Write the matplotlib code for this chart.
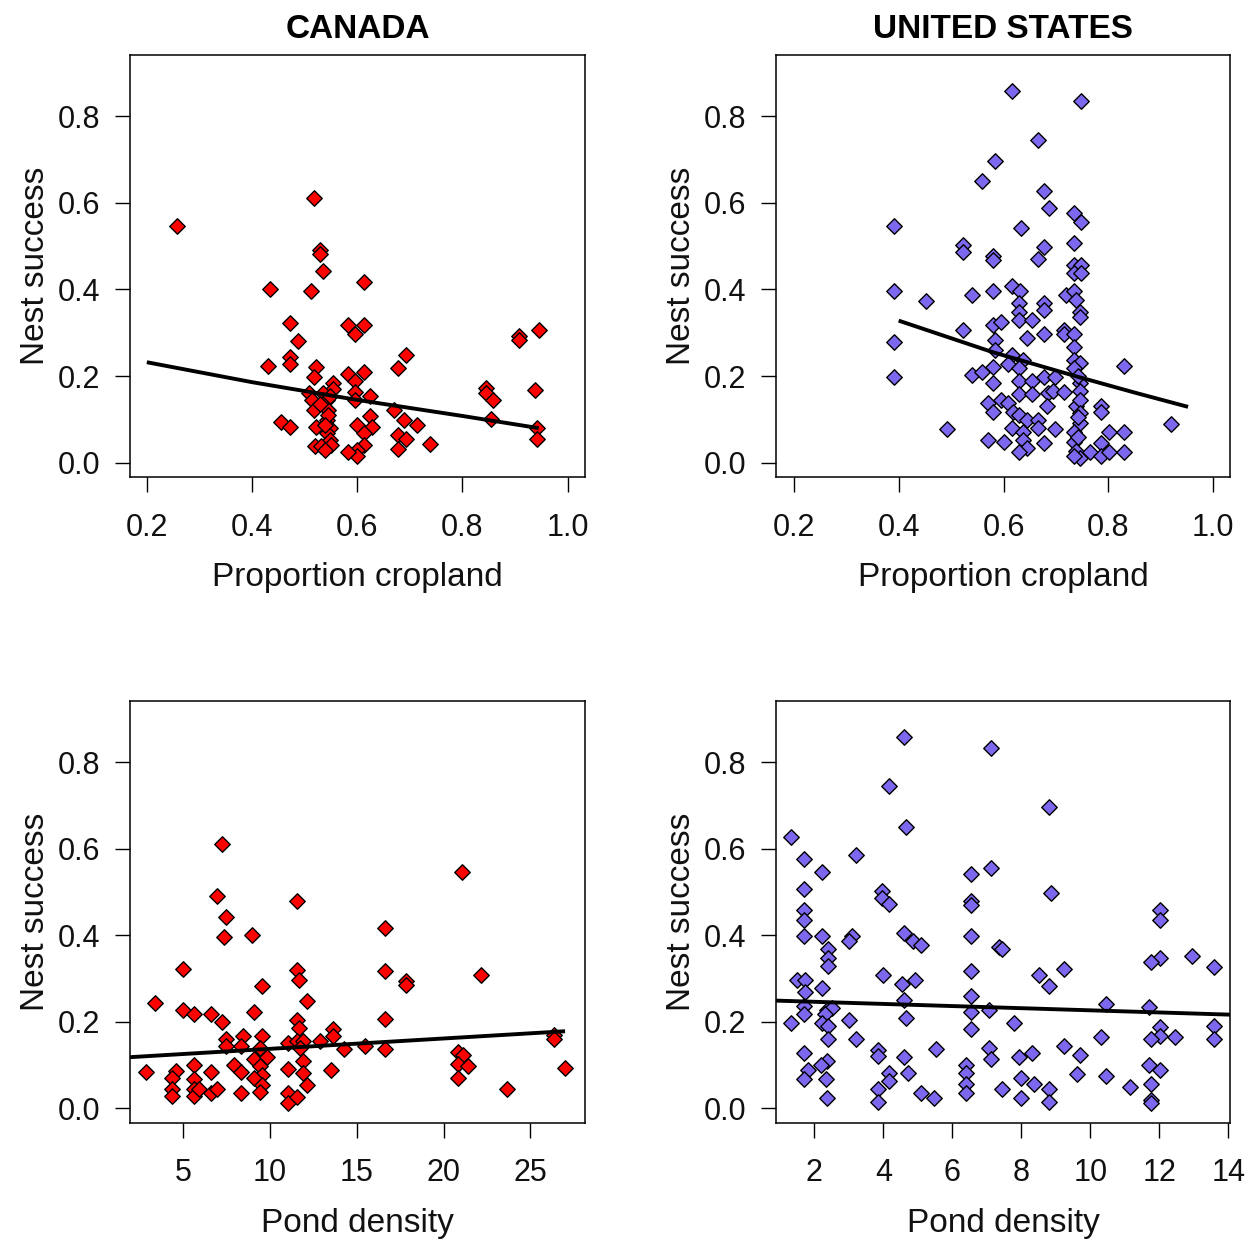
import matplotlib
matplotlib.use("Agg")
import matplotlib.pyplot as plt

plt.rcParams['font.family'] = ['Liberation Sans', 'DejaVu Sans']

# ---------------- data ----------------
can_crop_x = [0.258, 0.517, 0.529, 0.529, 0.534, 0.435, 0.513, 0.612, 0.472, 0.582,
              0.612, 0.595, 0.488, 0.693, 0.472, 0.472, 0.431, 0.521, 0.517, 0.677,
              0.582, 0.612, 0.595, 0.554, 0.554, 0.908, 0.908, 0.945, 0.845, 0.845,
              0.859, 0.937, 0.854, 0.941, 0.941, 0.624, 0.595, 0.595, 0.624, 0.628,
              0.599, 0.612, 0.612, 0.599, 0.599, 0.582, 0.669, 0.689, 0.714, 0.677,
              0.693, 0.677, 0.739, 0.455, 0.472, 0.509, 0.514, 0.517, 0.521, 0.535,
              0.542, 0.545, 0.542, 0.548, 0.542, 0.548, 0.519, 0.532, 0.551, 0.538,
              0.545, 0.538, 0.530, 0.548]
can_crop_y = [0.546, 0.611, 0.492, 0.482, 0.442, 0.402, 0.397, 0.416, 0.323, 0.317,
              0.317, 0.297, 0.282, 0.248, 0.245, 0.229, 0.223, 0.220, 0.198, 0.218,
              0.205, 0.209, 0.189, 0.184, 0.170, 0.292, 0.284, 0.307, 0.172, 0.160,
              0.144, 0.169, 0.101, 0.080, 0.055, 0.153, 0.164, 0.144, 0.109, 0.083,
              0.088, 0.069, 0.042, 0.030, 0.015, 0.024, 0.122, 0.099, 0.088, 0.065,
              0.055, 0.032, 0.044, 0.094, 0.083, 0.161, 0.145, 0.122, 0.083, 0.161,
              0.145, 0.122, 0.099, 0.080, 0.069, 0.053, 0.038, 0.038, 0.042, 0.030,
              0.110, 0.088, 0.135, 0.155]

us_crop_x = [0.617, 0.747, 0.666, 0.583, 0.559, 0.678, 0.686, 0.735, 0.747, 0.391,
             0.633, 0.522, 0.522, 0.580, 0.580, 0.678, 0.666, 0.735, 0.735, 0.747,
             0.735, 0.747, 0.391, 0.453, 0.539, 0.580, 0.617, 0.631, 0.629, 0.629,
             0.629, 0.654, 0.678, 0.678, 0.719, 0.735, 0.739, 0.745, 0.745, 0.391,
             0.391, 0.522, 0.580, 0.596, 0.583, 0.645, 0.678, 0.715, 0.715, 0.735,
             0.735, 0.735, 0.745, 0.735, 0.830, 0.583, 0.617, 0.638, 0.609, 0.629,
             0.580, 0.539, 0.559, 0.580, 0.629, 0.654, 0.678, 0.698, 0.629, 0.654,
             0.685, 0.695, 0.715, 0.746, 0.746, 0.571, 0.580, 0.596, 0.609, 0.619,
             0.629, 0.645, 0.666, 0.666, 0.682, 0.739, 0.746, 0.746, 0.746, 0.785,
             0.785, 0.920, 0.493, 0.571, 0.600, 0.617, 0.638, 0.638, 0.645, 0.629,
             0.678, 0.698, 0.735, 0.735, 0.739, 0.746, 0.735, 0.764, 0.785, 0.785,
             0.801, 0.801, 0.830, 0.830, 0.742, 0.742, 0.742]
us_crop_y = [0.859, 0.834, 0.745, 0.696, 0.651, 0.626, 0.587, 0.577, 0.556, 0.547,
             0.541, 0.503, 0.486, 0.478, 0.468, 0.497, 0.471, 0.507, 0.457, 0.457,
             0.438, 0.438, 0.397, 0.373, 0.388, 0.397, 0.409, 0.397, 0.369, 0.349,
             0.330, 0.329, 0.369, 0.353, 0.388, 0.397, 0.376, 0.347, 0.336, 0.278,
             0.198, 0.307, 0.318, 0.324, 0.283, 0.287, 0.298, 0.307, 0.298, 0.298,
             0.267, 0.238, 0.230, 0.219, 0.223, 0.261, 0.249, 0.238, 0.229, 0.219,
             0.222, 0.203, 0.209, 0.183, 0.189, 0.189, 0.199, 0.199, 0.158, 0.158,
             0.161, 0.166, 0.163, 0.184, 0.165, 0.139, 0.116, 0.145, 0.138, 0.116,
             0.111, 0.098, 0.098, 0.080, 0.130, 0.130, 0.145, 0.115, 0.092, 0.130,
             0.118, 0.089, 0.079, 0.053, 0.049, 0.080, 0.072, 0.053, 0.034, 0.024,
             0.045, 0.079, 0.070, 0.047, 0.026, 0.011, 0.015, 0.024, 0.045, 0.015,
             0.070, 0.024, 0.070, 0.024, 0.200, 0.060, 0.105]

can_pond_x = [7.22, 21.05, 6.97, 11.53, 7.45, 7.34, 8.95, 16.61, 4.96, 11.53,
              11.65, 16.61, 22.18, 17.84, 17.84, 9.56, 12.14, 3.35, 4.96, 5.59,
              6.59, 7.22, 9.06, 16.61, 11.53, 11.65, 13.64, 13.64, 7.45, 7.45,
              8.45, 8.32, 9.56, 9.43, 11.03, 11.53, 11.91, 11.72, 12.89, 14.25,
              15.50, 16.61, 26.38, 26.38, 20.82, 21.11, 20.82, 21.38, 20.82, 23.66,
              27.00, 2.87, 4.60, 4.35, 4.35, 4.35, 5.59, 5.59, 5.59, 5.59,
              5.88, 6.59, 6.59, 6.97, 7.95, 8.33, 8.33, 9.06, 9.81, 9.43,
              9.56, 9.06, 9.56, 9.43, 11.03, 11.91, 11.91, 12.14, 11.03, 11.03,
              11.53, 13.51]
can_pond_y = [0.610, 0.546, 0.491, 0.480, 0.441, 0.396, 0.401, 0.417, 0.322, 0.319,
              0.297, 0.317, 0.307, 0.295, 0.285, 0.282, 0.247, 0.244, 0.228, 0.218,
              0.218, 0.199, 0.223, 0.207, 0.205, 0.186, 0.184, 0.167, 0.161, 0.144,
              0.168, 0.144, 0.168, 0.140, 0.150, 0.155, 0.155, 0.140, 0.155, 0.136,
              0.144, 0.138, 0.170, 0.160, 0.130, 0.124, 0.103, 0.098, 0.069, 0.044,
              0.094, 0.084, 0.086, 0.071, 0.045, 0.028, 0.099, 0.067, 0.044, 0.028,
              0.044, 0.084, 0.035, 0.045, 0.099, 0.084, 0.035, 0.115, 0.118, 0.098,
              0.078, 0.069, 0.054, 0.038, 0.090, 0.109, 0.082, 0.054, 0.035, 0.013,
              0.025, 0.088]

us_pond_x = [4.61, 7.12, 4.16, 8.81, 4.67, 1.33, 1.71, 2.21, 3.22, 6.55,
             7.12, 1.71, 3.96, 3.96, 4.16, 6.55, 6.55, 8.87, 1.71, 1.71,
             12.02, 12.02, 1.71, 2.21, 3.09, 3.02, 4.61, 4.85, 5.10, 6.55,
             7.36, 7.43, 2.39, 2.39, 2.39, 12.02, 11.76, 12.96, 13.58, 3.98,
             4.53, 4.91, 6.55, 8.50, 8.81, 9.25, 1.50, 1.74, 1.74, 2.21,
             6.55, 4.61, 10.45, 11.71, 1.71, 1.71, 2.37, 2.52, 2.32, 1.33,
             2.21, 2.39, 3.02, 4.67, 6.55, 6.55, 7.05, 7.80, 12.02, 12.02,
             11.76, 12.45, 13.58, 13.58, 2.39, 3.22, 1.71, 3.86, 3.86, 4.61,
             5.54, 7.05, 7.11, 7.94, 8.32, 9.25, 9.69, 10.32, 2.37, 2.18,
             1.83, 1.71, 2.34, 2.37, 4.16, 4.16, 4.72, 3.86, 3.86, 5.10,
             5.48, 6.41, 6.41, 6.41, 6.41, 7.43, 7.99, 7.99, 8.36, 8.81,
             8.81, 9.62, 10.45, 11.14, 11.70, 12.02, 11.76, 11.76, 11.76]
us_pond_y = [0.858, 0.833, 0.744, 0.695, 0.650, 0.626, 0.576, 0.546, 0.586, 0.541,
             0.555, 0.507, 0.503, 0.486, 0.473, 0.480, 0.470, 0.497, 0.459, 0.436,
             0.459, 0.436, 0.397, 0.397, 0.397, 0.386, 0.406, 0.386, 0.377, 0.397,
             0.372, 0.367, 0.367, 0.347, 0.328, 0.347, 0.337, 0.351, 0.327, 0.307,
             0.287, 0.297, 0.317, 0.307, 0.282, 0.322, 0.297, 0.297, 0.269, 0.278,
             0.259, 0.251, 0.240, 0.234, 0.237, 0.217, 0.228, 0.232, 0.217, 0.198,
             0.198, 0.190, 0.204, 0.208, 0.222, 0.184, 0.226, 0.198, 0.188, 0.168,
             0.159, 0.164, 0.190, 0.159, 0.159, 0.159, 0.128, 0.135, 0.120, 0.119,
             0.138, 0.140, 0.113, 0.119, 0.128, 0.144, 0.124, 0.164, 0.109, 0.100,
             0.088, 0.068, 0.068, 0.023, 0.082, 0.063, 0.081, 0.044, 0.015, 0.035,
             0.023, 0.101, 0.082, 0.055, 0.036, 0.044, 0.069, 0.023, 0.055, 0.044,
             0.015, 0.080, 0.075, 0.049, 0.100, 0.088, 0.055, 0.020, 0.012]

# fitted curves
can_crop_fit_x = [0.20, 0.40, 0.60, 0.80, 0.945]
can_crop_fit_y = [0.232, 0.186, 0.145, 0.108, 0.080]
us_crop_fit_x = [0.40, 0.58, 0.74, 0.85, 0.952]
us_crop_fit_y = [0.328, 0.255, 0.199, 0.162, 0.129]
can_pond_fit_x = [1.9, 27.0]
can_pond_fit_y = [0.118, 0.178]
us_pond_fit_x = [0.8, 14.2]
us_pond_fit_y = [0.249, 0.216]

titles = ["CANADA", "UNITED STATES"]
crop_ticks = [0.2, 0.4, 0.6, 0.8, 1.0]
can_pond_ticks = [5, 10, 15, 20, 25]
us_pond_ticks = [2, 4, 6, 8, 10, 12, 14]
y_ticks = [0.0, 0.2, 0.4, 0.6, 0.8]

RED = "#FF0000"
BLUE = "#7B68EE"

W, H = 1250, 1240
fig = plt.figure(figsize=(W / 100, H / 100), dpi=100)


def px_axes(l, t, r, b):
    return fig.add_axes([l / W, 1 - b / H, (r - l) / W, (b - t) / H])


panels = [
    (px_axes(130, 55, 585, 477.5), can_crop_x, can_crop_y, can_crop_fit_x, can_crop_fit_y,
     RED, crop_ticks, (0.168, 1.033), "Proportion cropland", titles[0], "{:.1f}"),
    (px_axes(776, 55, 1230, 477.5), us_crop_x, us_crop_y, us_crop_fit_x, us_crop_fit_y,
     BLUE, crop_ticks, (0.166, 1.032), "Proportion cropland", titles[1], "{:.1f}"),
    (px_axes(130, 701, 585, 1123), can_pond_x, can_pond_y, can_pond_fit_x, can_pond_fit_y,
     RED, can_pond_ticks, (1.93, 28.15), "Pond density", None, "{:d}"),
    (px_axes(776, 701, 1230, 1123), us_pond_x, us_pond_y, us_pond_fit_x, us_pond_fit_y,
     BLUE, us_pond_ticks, (0.89, 14.05), "Pond density", None, "{:d}"),
]

for ax, xs, ys, fx, fy, col, xt, xl, xlab, title, fmt in panels:
    ax.scatter(xs, ys, marker="D", s=62, facecolor=col, edgecolor="black",
               linewidths=1.0, zorder=2)
    ax.plot(fx, fy, color="black", lw=2.8, zorder=3, solid_capstyle="butt")
    ax.set_xlim(*xl)
    ax.set_ylim(-0.034, 0.941)
    ax.set_xticks(xt)
    ax.set_xticklabels([fmt.format(v) for v in xt])
    ax.set_yticks(y_ticks)
    ax.set_yticklabels(["{:.1f}".format(v) for v in y_ticks])
    ax.tick_params(axis="both", direction="out", length=10.5, width=1.0,
                   labelsize=22, color="black", labelcolor="#111111")
    ax.tick_params(axis="x", pad=15)
    ax.tick_params(axis="y", pad=11)
    for sp in ax.spines.values():
        sp.set_linewidth(1.1)
        sp.set_color("black")
    ax.set_xlabel(xlab, fontsize=24, labelpad=14, color="#111111")
    ax.set_ylabel("Nest success", fontsize=24, labelpad=5, color="#111111")
    if title:
        ax.set_title(title, fontsize=24, fontweight="bold", pad=12)

fig.savefig("out.png", dpi=100)
